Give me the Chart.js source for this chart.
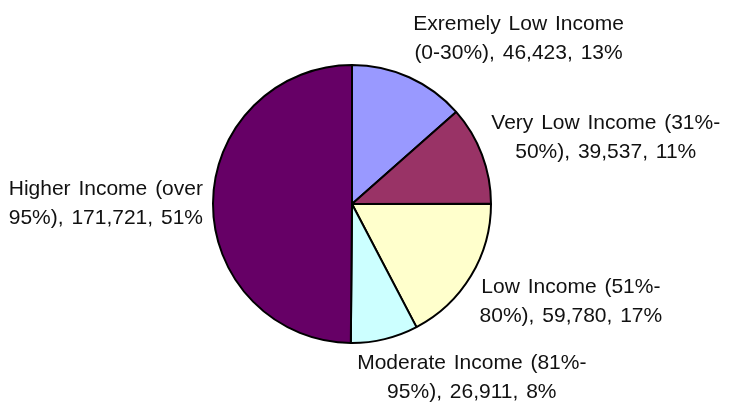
<!DOCTYPE html>
<html>
<head>
<meta charset="utf-8">
<script src="https://cdn.jsdelivr.net/npm/chart.js@4"></script>
<style>
  html, body { margin: 0; padding: 0; background: #fff; }
</style>
</head>
<body>
<canvas id="pieChart" width="729" height="405"></canvas>
<script>
// data (slices go clockwise from 12 o'clock)
let categories = [
  'Exremely Low Income (0-30%)',
  'Very Low Income (31%-50%)',
  'Low Income (51%-80%)',
  'Moderate Income (81%-95%)',
  'Higher Income (over 95%)'
]
let households = [46423, 39537, 59780, 26911, 171721]
let percents = [13, 11, 17, 8, 51]
let wrapAfter = ['Income', '(31%-', '(51%-', '(81%-', '(over']

let sliceColors = ['#9999FF', '#993366', '#FFFFCC', '#CCFFFF', '#660066']
// where the label block sits relative to the point just outside the slice
let labelAlign = [[1, -1], [1, -0.47], [1, 0.7], [0.74, 1], [-1, 0]]
let lineGap = 29

function labelLines(i) {
  let txt = categories[i] + ', ' + households[i].toLocaleString('en-US') + ', ' + percents[i] + '%'
  let cut = txt.indexOf(wrapAfter[i]) + wrapAfter[i].length
  return [txt.slice(0, cut).trim(), txt.slice(cut).trim()]
}

const sliceLabels = {
  id: 'sliceLabels',
  afterDatasetsDraw(chart) {
    const ctx = chart.ctx
    const arcs = chart.getDatasetMeta(0).data
    ctx.save()
    ctx.font = '21px Arial, "Liberation Sans", sans-serif'
    ctx.wordSpacing = '2px'
    ctx.fillStyle = '#111'
    ctx.textAlign = 'center'
    ctx.textBaseline = 'middle'
    arcs.forEach((arc, i) => {
      const p = arc.getProps(['x', 'y', 'startAngle', 'endAngle', 'outerRadius'], true)
      const mid = (p.startAngle + p.endAngle) / 2
      const r = p.outerRadius + 10
      const px = p.x + Math.cos(mid) * r
      const py = p.y + Math.sin(mid) * r
      const lines = labelLines(i)
      const w = Math.max(...lines.map(l => ctx.measureText(l).width))
      const h = lines.length * lineGap
      const cx = px + w / 2 * labelAlign[i][0]
      const cy = py + h / 2 * labelAlign[i][1]
      lines.forEach((l, k) => {
        ctx.fillText(l, cx, cy + (k - (lines.length - 1) / 2) * lineGap)
      })
    })
    ctx.restore()
  }
}

let ctx = document.getElementById('pieChart').getContext('2d')
let myChart = new Chart(ctx, {
  type: 'pie',
  data: {
    labels: categories,
    datasets: [{
      data: households,
      backgroundColor: sliceColors,
      borderColor: '#000',
      borderWidth: 2
    }]
  },
  options: {
    responsive: false,
    devicePixelRatio: 1,
    animation: false,
    layout: { padding: { left: 212, right: 237, top: 64, bottom: 61 } },
    plugins: {
      legend: { display: false },
      tooltip: { enabled: false }
    }
  },
  plugins: [sliceLabels]
})
</script>
</body>
</html>
